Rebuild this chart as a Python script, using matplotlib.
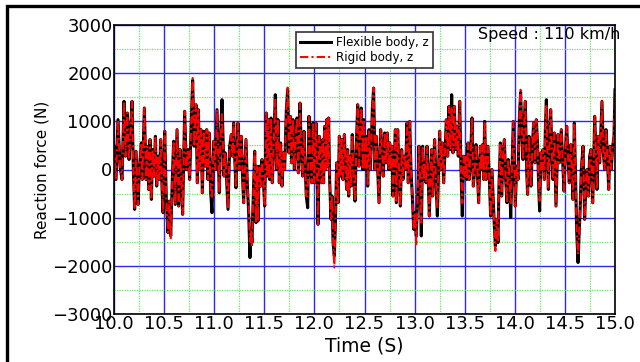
import matplotlib
matplotlib.use("Agg")
import matplotlib.pyplot as plt
from matplotlib.patches import Rectangle
from matplotlib.ticker import MultipleLocator, FormatStrFormatter

# Data (time in s, force in N)
time_s = [
    10.000, 10.020, 10.040, 10.060, 10.080, 10.100, 10.116, 10.133, 10.150, 10.166,
    10.180, 10.193, 10.206, 10.220, 10.240, 10.253, 10.273, 10.283, 10.303, 10.320,
    10.333, 10.346, 10.360, 10.373, 10.386, 10.400, 10.413, 10.426, 10.440, 10.452,
    10.466, 10.480, 10.490, 10.506, 10.522, 10.539, 10.552, 10.566, 10.582, 10.595,
    10.612, 10.629, 10.645, 10.659, 10.672, 10.685, 10.705, 10.722, 10.739, 10.755,
    10.772, 10.785, 10.800, 10.818, 10.832, 10.842, 10.855, 10.868, 10.882, 10.895,
    10.912, 10.925, 10.938, 10.951, 10.965, 10.978, 10.995,
    11.011, 11.028, 11.051, 11.064, 11.078, 11.098, 11.111, 11.124, 11.138, 11.154,
    11.171, 11.184, 11.194, 11.207, 11.217, 11.237, 11.251, 11.271, 11.284, 11.294,
    11.317, 11.331, 11.344, 11.357, 11.367, 11.377, 11.390, 11.404, 11.417, 11.427,
    11.437, 11.450, 11.464, 11.477, 11.490, 11.504, 11.520, 11.530, 11.540, 11.553,
    11.567, 11.580, 11.597, 11.610, 11.623, 11.637, 11.650, 11.663, 11.677, 11.690,
    11.703, 11.720, 11.733, 11.746, 11.760, 11.773, 11.786, 11.800, 11.813, 11.826,
    11.840, 11.856, 11.870, 11.883, 11.896, 11.909, 11.919, 11.933, 11.946, 11.959,
    11.973, 11.986, 11.999,
    12.016, 12.026, 12.036, 12.049, 12.063, 12.072, 12.082, 12.092, 12.102, 12.112,
    12.122, 12.132, 12.142, 12.152, 12.166, 12.176, 12.186, 12.199, 12.209, 12.222,
    12.236, 12.249, 12.262, 12.272, 12.285, 12.299, 12.312, 12.322, 12.332, 12.342,
    12.355, 12.365, 12.378, 12.392, 12.405, 12.418, 12.432, 12.445, 12.455, 12.468,
    12.482, 12.492, 12.505, 12.518, 12.532, 12.545, 12.558, 12.568, 12.578, 12.591,
    12.605, 12.618, 12.631, 12.645, 12.661, 12.675, 12.688, 12.701, 12.715, 12.728,
    12.741, 12.751, 12.764, 12.774, 12.784, 12.798, 12.808, 12.818, 12.831, 12.844,
    12.858, 12.871, 12.884, 12.897, 12.911, 12.924, 12.937, 12.951, 12.964, 12.977,
    12.991, 13.004,
    13.017, 13.031, 13.044, 13.057, 13.067, 13.080, 13.094, 13.104, 13.114, 13.124,
    13.137, 13.147, 13.160, 13.170, 13.180, 13.190, 13.200, 13.213, 13.227, 13.240,
    13.250, 13.263, 13.277, 13.290, 13.303, 13.317, 13.330, 13.343, 13.356, 13.370,
    13.383, 13.397, 13.410, 13.423, 13.436, 13.450, 13.463, 13.476, 13.490, 13.500,
    13.510, 13.523, 13.533, 13.546, 13.560, 13.573, 13.586, 13.600, 13.613, 13.626,
    13.639, 13.656, 13.669, 13.679, 13.689, 13.699, 13.713, 13.722, 13.732, 13.746,
    13.759, 13.772, 13.786, 13.796, 13.806, 13.819, 13.832, 13.842, 13.856, 13.869,
    13.882, 13.896, 13.909, 13.922, 13.935, 13.949, 13.959, 13.972, 13.985, 13.999,
    14.005, 14.019, 14.032, 14.045, 14.058, 14.072, 14.082, 14.095, 14.105, 14.118,
    14.128, 14.142, 14.152, 14.162, 14.175, 14.188, 14.202, 14.215, 14.228, 14.238,
    14.248, 14.261, 14.271, 14.281, 14.295, 14.305, 14.315, 14.325, 14.335, 14.348,
    14.358, 14.371, 14.381, 14.395, 14.411, 14.421, 14.431, 14.444, 14.454, 14.464,
    14.478, 14.491, 14.504, 14.518, 14.531, 14.544, 14.558, 14.571, 14.581, 14.594,
    14.607, 14.617, 14.631, 14.641, 14.651, 14.664, 14.681, 14.697, 14.711, 14.721,
    14.734, 14.747, 14.760, 14.777, 14.787, 14.797, 14.810, 14.820, 14.834, 14.847,
    14.860, 14.870, 14.884, 14.897, 14.910, 14.923, 14.937, 14.950, 14.963, 14.977,
    14.990, 15.000,
]

flexible_z = [
    483, -207, 1035, 69, -207, 1415, 276, 1173, 207, 828,
    1415, 0, -828, 380, -725, 0, 552, -207, 1277, -207,
    483, -414, 621, -621, 414, -138, 690, -345, 276, -207,
    621, -414, -897, 794, -621, -1311, -656, -1380, -207, 587,
    -725, 828, -759, 414, -207, -932, 1208, 0, 414, -207,
    1035, 1850, 483, 1346, -276, 1242, 0, 828, -483, 794,
    69, 828, -207, 759, -483, -897, 587,
    0, 1242, -483, 690, 1449, -138, 345, -207, -828, 483,
    725, 276, 966, 138, -380, 966, 0, 690, -207, -690,
    621, -345, -897, -1829, -1242, -1518, -552, 380, -1104, 69,
    -1070, 69, -345, 207, -207, -759, 1173, -138, 1035, -207,
    1070, -276, 690, 1553, 0, 1035, -276, 552, -345, 345,
    0, 1242, 1656, 345, 1104, 138, 1035, 0, 690, 1070,
    -69, 1380, 345, -138, 794, 0, -552, -794, 1104, 276,
    -276, 966, -276,
    966, 0, -1139, 690, 207, -276, 621, -276, 897, 0,
    1035, 69, 1070, -207, -1035, -552, -1518, -1794, -1173, 138,
    -690, 690, -138, 621, -207, 725, 0, -414, 414, -552,
    276, -345, 725, -207, -656, 449, 1346, 69, 690, 1277,
    0, 1035, 0, 690, -345, 828, 0, 483, 1242, 1691,
    0, 690, 0, -690, 828, 414, -138, 759, 138, 759,
    0, 552, 0, 483, -552, 207, 828, -690, 828, 0,
    -759, 414, -207, 276, 0, 966, -276, 1000, 0, -552,
    -1242, -897,
    -1380, -552, 483, -345, -1380, 483, -207, 138, -276, 483,
    -207, -966, 0, 414, -552, 0, 621, -207, -966, 0,
    794, 0, 552, -276, 345, 1035, 276, 1311, 414, 1553,
    345, 1311, 414, 897, 276, 1415, 0, -966, 276, -138,
    276, -207, 552, -207, 345, 1070, -345, 0, 518, 0,
    -690, 483, 0, 518, -207, 1000, -207, 138, 483, -207,
    -966, 0, -690, -1173, -1587, -1035, -1518, -345, 552, -552,
    276, 621, -207, -690, 207, -207, -1000, 0, 1000, -207,
    -759, 69, -207, 1035, 1600, 690, 207, 1035, 1415, 0,
    -518, 690, 0, -345, 483, 966, 138, 1035, 483, -345,
    -863, 345, 0, 414, -207, 828, 1449, 345, -414, 690,
    1242, 276, -207, 759, -759, 0, 725, 138, 483, 828,
    138, -449, 345, 897, 276, -276, 518, 0, -621, 966,
    -207, -1242, -1932, -1380, -897, 0, 483, -1035, -207, 0,
    -552, 276, 414, -690, 0, 1104, 345, -414, 690, 138,
    828, 1415, 345, 0, 828, 345, -414, 483, 0, 483,
    690, 1656,
]

# Points where the rigid-body curve differs from the flexible one
rigid_diff = {
    10.566: -1449, 10.785: 1900, 10.978: -600, 11.078: 1150, 11.344: -700,
    11.357: -1500, 11.377: -1600, 11.610: 1450, 11.733: 1700, 11.933: -552,
    12.199: -2035, 13.017: -1580, 13.067: -1100, 13.227: -800, 13.370: 1300,
    13.476: -700, 13.806: -1690, 13.959: -700, 14.058: 1656, 14.248: -650,
    14.315: 1350, 14.631: -1760,
}
rigid_z = [rigid_diff.get(t, f) for t, f in zip(time_s, flexible_z)]

plt.rcParams["font.family"] = ["DejaVu Sans"]

fig = plt.figure(figsize=(6.4, 3.62), dpi=100)
ax = fig.add_axes([114 / 640, 1 - 314 / 362, 501 / 640, 289 / 362])

# Grid
ax.xaxis.set_major_locator(MultipleLocator(0.5))
ax.xaxis.set_minor_locator(MultipleLocator(0.25))
ax.yaxis.set_major_locator(MultipleLocator(1000))
ax.yaxis.set_minor_locator(MultipleLocator(500))
ax.grid(which="minor", color="#66e866", linestyle=(0, (1, 1)), linewidth=0.9)
ax.grid(which="major", color="#2a2aee", linestyle="-", linewidth=1.0)
ax.set_axisbelow(True)

# Curves
ax.plot(time_s, flexible_z, color="black", linewidth=2.2, label="Flexible body, z")
ax.plot(time_s, rigid_z, color="red", linewidth=1.5, linestyle=(0, (4, 1.5, 1, 1.5)),
        label="Rigid body, z")

ax.set_xlim(10.0, 15.0)
ax.set_ylim(-3000, 3000)
ax.xaxis.set_major_formatter(FormatStrFormatter("%.1f"))
ax.tick_params(which="both", length=0, labelsize=13, pad=1)
for s in ax.spines.values():
    s.set_linewidth(1.2)

ax.set_xlabel("Time (S)", fontsize=13.5, labelpad=2)
ax.set_ylabel("Reaction force (N)", fontsize=11, labelpad=2)

leg = ax.legend(loc="upper left", bbox_to_anchor=(296 / 640, 1 - 32 / 362),
                bbox_transform=fig.transFigure, fontsize=8.6, frameon=True,
                fancybox=False, framealpha=1, edgecolor="#333333",
                handlelength=2.6, handletextpad=0.4, borderpad=0.35,
                labelspacing=0.15, borderaxespad=0)
leg.get_frame().set_linewidth(1.2)

fig.text(478 / 640, 1 - 35 / 362, "Speed : 110 km/h", fontsize=11.5, va="center", ha="left")

# Outer frame of the figure
fig.patches.append(Rectangle((6.5 / 640, -0.2), 2, 1.2 - 6 / 362, transform=fig.transFigure,
                             fill=False, edgecolor="black", linewidth=2.4))

fig.savefig("out.png", dpi=100)
